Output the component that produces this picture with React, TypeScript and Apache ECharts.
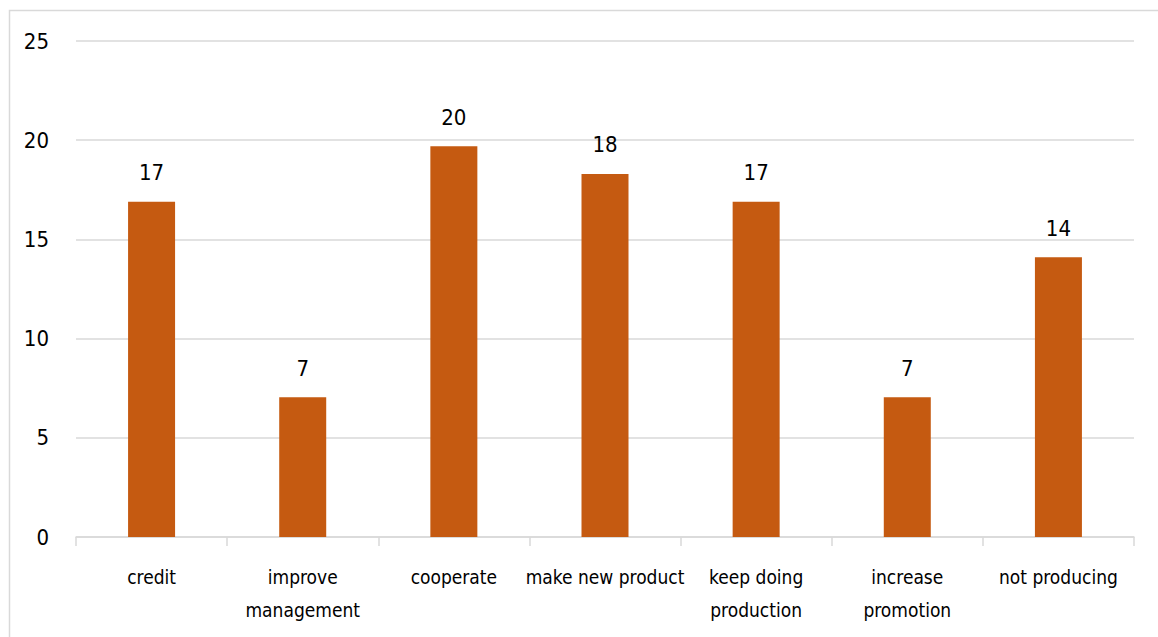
import React, { useEffect, useRef } from "react";
import * as echarts from "echarts";

const categories = [
  "credit",
  "improve\nmanagement",
  "cooperate",
  "make new product",
  "keep doing\nproduction",
  "increase\npromotion",
  "not producing",
];
const values = [16.9, 7.05, 19.7, 18.3, 16.9, 7.05, 14.1];
const yTicks = { min: 0, max: 25, interval: 5 };

const FONT = "'DejaVu Sans Condensed', 'Liberation Sans Narrow', sans-serif";

export default function App() {
  const ref = useRef<HTMLDivElement>(null);
  useEffect(() => {
    if (!ref.current) return;
    const chart = echarts.init(ref.current, null, { renderer: "svg" });
    chart.setOption({
      animation: false,
      backgroundColor: "#ffffff",
      graphic: [
        {
          type: "rect",
          shape: { x: 9.5, y: 10.5, width: 1160, height: 640 },
          style: { fill: "none", stroke: "#d9d9d9", lineWidth: 1.5 },
          silent: true,
        },
      ],
      grid: { left: 76, right: 24, top: 41, bottom: 100, containLabel: false },
      xAxis: {
        type: "category",
        data: categories,
        axisLine: { lineStyle: { color: "#d9d9d9", width: 1.5 } },
        axisTick: { show: true, length: 9, lineStyle: { color: "#d9d9d9", width: 1.5 } },
        axisLabel: {
          color: "#000",
          fontFamily: FONT,
          fontSize: 19,
          lineHeight: 33,
          margin: 23,
          interval: 0,
        },
      },
      yAxis: {
        type: "value",
        min: yTicks.min,
        max: yTicks.max,
        interval: yTicks.interval,
        axisLine: { show: false },
        axisTick: { show: false },
        splitLine: { lineStyle: { color: "#d9d9d9", width: 1.5 } },
        axisLabel: { color: "#000", fontFamily: FONT, fontSize: 22, margin: 27 },
      },
      series: [
        {
          type: "bar",
          data: values,
          barWidth: 47,
          itemStyle: { color: "#C55A11" },
          label: {
            show: true,
            position: "top",
            distance: 18,
            color: "#000",
            fontFamily: FONT,
            fontSize: 22,
            formatter: (p: any) => String(Math.round(p.value)),
          },
        },
      ],
    });
    return () => chart.dispose();
  }, []);
  return (
    <div
      ref={ref}
      style={{ position: "absolute", left: 0, top: 0, width: 1158, height: 637 }}
    />
  );
}
